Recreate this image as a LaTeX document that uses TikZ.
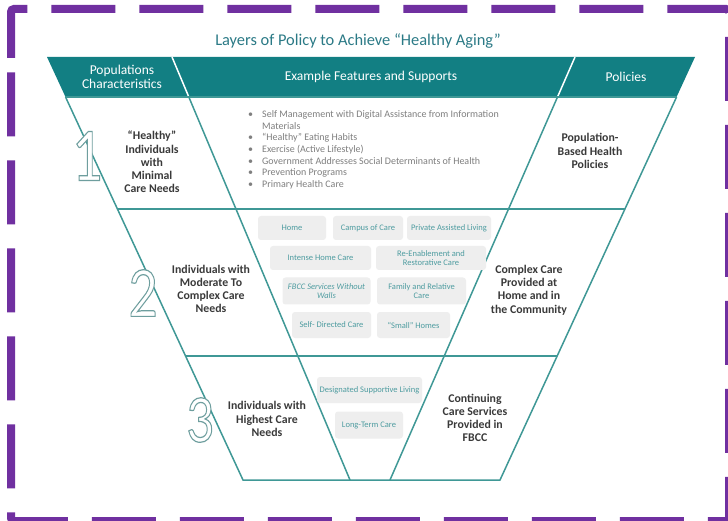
\documentclass[tikz,border=0pt]{standalone}
\usepackage{fontspec}
\setmainfont{Carlito}
\usetikzlibrary{calc}
\definecolor{bordpurple}{HTML}{7030A0}
\definecolor{headteal}{HTML}{127F83}
\definecolor{lineteal}{HTML}{3F9896}
\definecolor{titleteal}{HTML}{2B7A86}
\definecolor{darktext}{HTML}{3A3A3A}
\definecolor{graytext}{HTML}{7F7F7F}
\definecolor{boxgray}{HTML}{EEEEEE}
\definecolor{boxtext}{HTML}{4E9CA0}
\newcommand{\outlinedigit}[2]{{\color{white}\special{pdf:code 2 Tr 1.2 w 0.43 0.62 0.62 RG}\fontsize{#1}{#1}\selectfont #2\special{pdf:code 0 Tr}}}
\begin{document}
\begin{tikzpicture}[x=1pt,y=-1pt,
  border/.style={draw=bordpurple,line width=8pt,dash pattern=on 64pt off 24pt,rounded corners=3pt},
  funnel/.style={draw=lineteal,line width=1.5pt},
  sep/.style={draw=white,line width=1.5pt},
  headtxt/.style={text=white,font=\fontsize{13.5}{14.5}\selectfont,align=center},
  boldtxt/.style={text=darktext,font=\fontsize{11.8}{13.2}\selectfont\bfseries,align=center},
  featbox/.style={fill=boxgray,rounded corners=3pt,text=boxtext,font=\fontsize{8.5}{9.6}\selectfont,align=center,inner sep=1pt},
  bignum/.style={inner sep=0pt,xscale=0.8}
]
\useasboundingbox (0,0) rectangle (728,521);
\clip (0,0) rectangle (728,521);
\fill[white] (0,0) rectangle (728,521);
% border
\draw[border] (11,61) -- (11,9) -- (729,9) -- (729,521) -- (11,521) -- cycle;
% key coordinates
\coordinate (TL) at (47,57);
\coordinate (TR) at (695,57);
\coordinate (BL) at (243,480);
\coordinate (BR) at (500,480);
\coordinate (IL1) at (172,57);
\coordinate (IL2) at (350,480);
\coordinate (IR1) at (575,57);
\coordinate (IR2) at (390,480);
\coordinate (HL) at ($(TL)!0.0946!(BL)$);
\coordinate (HR) at ($(TR)!0.0946!(BR)$);
\coordinate (AL) at ($(TL)!0.3593!(BL)$);
\coordinate (AR) at ($(TR)!0.3593!(BR)$);
\coordinate (CL) at ($(TL)!0.7069!(BL)$);
\coordinate (CR) at ($(TR)!0.7069!(BR)$);
\coordinate (HIL) at ($(IL1)!0.0946!(IL2)$);
\coordinate (HIR) at ($(IR1)!0.0946!(IR2)$);
% title
\node[text=titleteal,font=\fontsize{16.4}{18}\selectfont] (title) at (358,41) {Layers of Policy to Achieve “Healthy Aging”};
% header band
\fill[headteal] (TL) -- (TR) -- (HR) -- (HL) -- cycle;
\draw[sep] (IL1) -- (HIL);
\draw[sep] (IR1) -- (HIR);
% funnel lines
\draw[funnel] (HL) -- (BL) -- (BR) -- (HR);
\draw[funnel] (HL) -- (HR);
\draw[funnel] (AL) -- (AR);
\draw[funnel] (CL) -- (CR);
\draw[funnel] (HIL) -- (IL2);
\draw[funnel] (HIR) -- (IR2);
% header texts
\node[headtxt] (h1) at (122,77) {Populations\\Characteristics};
\node[headtxt] (h2) at (371,77) {Example Features and Supports};
\node[headtxt] (h3) at (626,77) {Policies};
% big numerals
\node[bignum] (n1) at (87,156) {\outlinedigit{76}{1}};
\node[bignum] (n2) at (143,293) {\outlinedigit{72}{2}};
\node[bignum] (n3) at (200,420) {\outlinedigit{68}{3}};
% layer 1
\node[boldtxt] (l1a) at (152,162) {“Healthy”\\Individuals\\with\\Minimal\\Care Needs};
\node[text=graytext,font=\fontsize{10}{11.7}\selectfont,anchor=north west,inner sep=0pt] (list) at (248,109) {%
\begin{tabular}{@{}l@{\hspace{9pt}}l@{}}
•&Self Management with Digital Assistance from Information\\
 &Materials\\
•&“Healthy” Eating Habits\\
•&Exercise (Active Lifestyle)\\
•&Government Addresses Social Determinants of Health\\
•&Prevention Programs\\
•&Primary Health Care
\end{tabular}};
\node[boldtxt] (l1c) at (590,151) {Population-\\Based Health\\Policies};
% layer 2
\node[boldtxt] (l2a) at (211,289) {Individuals with\\Moderate To\\Complex Care\\Needs};
\node[featbox,minimum width=68pt,minimum height=24pt] (b1) at (292,228) {Home};
\node[featbox,minimum width=70pt,minimum height=24pt] (b2) at (368,228) {Campus of Care};
\node[featbox,minimum width=84pt,minimum height=24pt] (b3) at (449,228) {Private Assisted Living};
\node[featbox,minimum width=101pt,minimum height=24pt] (b4) at (320.5,258) {Intense Home Care};
\node[featbox,minimum width=110pt,minimum height=24pt] (b5) at (431,258) {Re-Enablement and\\Restorative Care};
\node[featbox,minimum width=88pt,minimum height=27pt] (b6) at (326.5,291) {\itshape FBCC Services Without\\\itshape Walls};
\node[featbox,minimum width=89pt,minimum height=27pt] (b7) at (421.5,291) {Family and Relative\\Care};
\node[featbox,minimum width=79pt,minimum height=26pt] (b8) at (331.5,325) {Self- Directed Care};
\node[featbox,minimum width=73pt,minimum height=26pt] (b9) at (413.5,325) {“Small” Homes};
\node[boldtxt] (l2c) at (529,290) {Complex Care\\Provided at\\Home and in\\the Community};
% layer 3
\node[boldtxt] (l3a) at (267,419) {Individuals with\\Highest Care\\Needs};
\node[featbox,minimum width=105pt,minimum height=26pt] (b10) at (369.5,390) {Designated Supportive Living};
\node[featbox,minimum width=68pt,minimum height=27pt] (b11) at (369,425) {Long-Term Care};
\node[boldtxt] (l3c) at (475,418) {Continuing\\Care Services\\Provided in\\FBCC};
\end{tikzpicture}
\end{document}
